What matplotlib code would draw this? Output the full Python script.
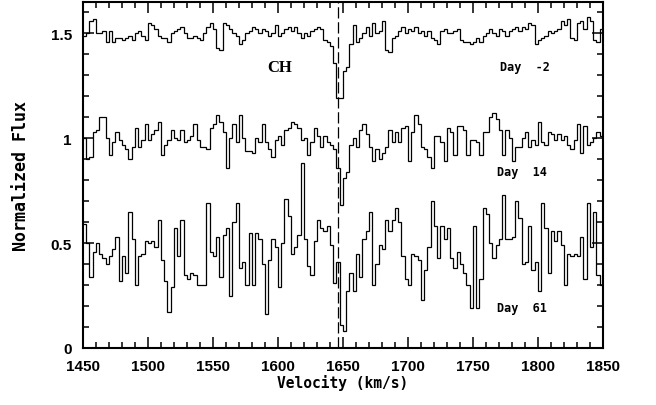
import numpy as np
import matplotlib
matplotlib.use('Agg')
import matplotlib.pyplot as plt
from matplotlib.ticker import MultipleLocator

# velocity grid (km/s)
v_start = 1450.0
v_step = 2.5
line_v = 1646.5

day_m2 = [1.49, 1.50, 1.56, 1.57, 1.50, 1.50, 1.51, 1.46, 1.51, 1.46,
          1.48, 1.48, 1.47, 1.48, 1.49, 1.47, 1.50, 1.51, 1.49, 1.47,
          1.55, 1.54, 1.52, 1.49, 1.48, 1.48, 1.46, 1.50, 1.51, 1.52,
          1.53, 1.50, 1.48, 1.48, 1.49, 1.48, 1.47, 1.50, 1.53, 1.55,
          1.52, 1.43, 1.42, 1.55, 1.54, 1.52, 1.50, 1.49, 1.45, 1.47,
          1.50, 1.51, 1.53, 1.52, 1.50, 1.52, 1.51, 1.49, 1.50, 1.54,
          1.49, 1.50, 1.52, 1.53, 1.51, 1.53, 1.50, 1.48, 1.50, 1.49,
          1.51, 1.52, 1.53, 1.52, 1.47, 1.46, 1.44, 1.36, 1.19, 1.19,
          1.32, 1.34, 1.45, 1.54, 1.46, 1.48, 1.50, 1.53, 1.49, 1.55,
          1.50, 1.51, 1.56, 1.42, 1.41, 1.48, 1.49, 1.51, 1.53, 1.50,
          1.52, 1.51, 1.53, 1.50, 1.51, 1.49, 1.51, 1.48, 1.47, 1.45,
          1.51, 1.52, 1.50, 1.50, 1.51, 1.52, 1.47, 1.46, 1.46, 1.45,
          1.46, 1.48, 1.46, 1.49, 1.50, 1.52, 1.50, 1.49, 1.52, 1.51,
          1.49, 1.51, 1.52, 1.53, 1.51, 1.53, 1.52, 1.55, 1.54, 1.45,
          1.47, 1.48, 1.49, 1.51, 1.50, 1.51, 1.52, 1.56, 1.54, 1.57,
          1.48, 1.47, 1.55, 1.56, 1.52, 1.58, 1.56, 1.47, 1.46, 1.52]

day_14 = [1.00, 0.90, 0.91, 1.03, 1.04, 1.10, 1.10, 1.00, 0.92, 0.98,
          1.03, 0.99, 0.97, 0.95, 0.90, 0.96, 1.05, 0.96, 0.99, 1.07,
          0.99, 1.02, 1.04, 1.08, 0.92, 0.97, 0.99, 1.04, 1.00, 0.99,
          1.04, 0.98, 0.99, 1.01, 1.07, 0.99, 0.96, 0.96, 0.95, 1.05,
          1.07, 1.11, 1.08, 1.03, 0.86, 1.00, 1.07, 0.98, 1.11, 1.00,
          0.94, 0.94, 0.93, 1.00, 0.98, 1.07, 0.98, 0.95, 0.91, 0.99,
          1.01, 0.97, 1.04, 1.05, 1.08, 1.07, 1.05, 0.99, 1.00, 0.92,
          0.98, 1.05, 1.01, 0.96, 1.01, 0.98, 0.97, 0.95, 0.86, 0.68,
          0.81, 0.84, 0.97, 1.00, 0.96, 1.04, 1.07, 1.02, 0.96, 0.89,
          0.95, 0.90, 0.93, 0.96, 1.04, 0.98, 1.03, 0.98, 1.05, 1.06,
          0.89, 1.03, 1.11, 1.07, 0.96, 0.95, 0.91, 0.86, 1.01, 1.01,
          0.98, 0.89, 1.05, 1.03, 0.92, 1.06, 1.06, 1.04, 0.92, 0.99,
          0.99, 0.98, 0.92, 1.03, 1.03, 1.10, 1.12, 1.09, 1.04, 0.92,
          1.04, 1.00, 0.89, 0.96, 0.96, 1.00, 1.03, 0.96, 0.99, 0.97,
          1.08, 0.98, 0.97, 1.03, 1.02, 0.99, 1.02, 0.99, 1.01, 0.97,
          0.95, 0.99, 1.07, 0.93, 1.06, 0.97, 0.98, 1.00, 1.03, 1.01]

day_61 = [0.59, 0.50, 0.34, 0.46, 0.50, 0.45, 0.43, 0.40, 0.44, 0.47,
          0.53, 0.32, 0.44, 0.36, 0.65, 0.52, 0.30, 0.44, 0.45, 0.51,
          0.50, 0.51, 0.48, 0.61, 0.42, 0.32, 0.17, 0.29, 0.57, 0.44,
          0.61, 0.35, 0.33, 0.36, 0.35, 0.30, 0.30, 0.30, 0.69, 0.46,
          0.44, 0.53, 0.34, 0.54, 0.57, 0.25, 0.60, 0.69, 0.38, 0.41,
          0.30, 0.55, 0.30, 0.55, 0.52, 0.40, 0.16, 0.42, 0.52, 0.48,
          0.29, 0.50, 0.71, 0.63, 0.45, 0.48, 0.54, 0.88, 0.52, 0.39,
          0.35, 0.51, 0.61, 0.57, 0.56, 0.58, 0.49, 0.31, 0.41, 0.11,
          0.08, 0.27, 0.36, 0.27, 0.45, 0.34, 0.52, 0.56, 0.65, 0.30,
          0.40, 0.49, 0.47, 0.61, 0.56, 0.61, 0.67, 0.60, 0.44, 0.33,
          0.30, 0.45, 0.44, 0.42, 0.23, 0.37, 0.48, 0.70, 0.58, 0.43,
          0.58, 0.52, 0.57, 0.43, 0.38, 0.46, 0.40, 0.36, 0.30, 0.19,
          0.58, 0.19, 0.33, 0.67, 0.64, 0.50, 0.43, 0.49, 0.52, 0.73,
          0.52, 0.52, 0.53, 0.70, 0.62, 0.40, 0.41, 0.58, 0.37, 0.41,
          0.27, 0.69, 0.57, 0.36, 0.56, 0.51, 0.56, 0.49, 0.30, 0.45,
          0.44, 0.45, 0.44, 0.53, 0.33, 0.69, 0.48, 0.65, 0.35, 0.30]

labels = ['Day  -2', 'Day  14', 'Day  61']
label_pos = [(1790, 1.344), (1788, 0.844), (1788, 0.195)]

fig = plt.figure(figsize=(6.56, 4.06), dpi=100)
ax = fig.add_axes([0.1265, 0.1404, 0.7925, 0.8522])

edges = v_start + v_step * np.arange(len(day_m2) + 1)
for spec in [day_m2, day_14, day_61]:
    ax.stairs(spec, edges, color='black', lw=0.9, baseline=None)

ax.axvline(line_v, color='black', lw=0.9, ls=(0, (9, 3)))

ax.text(1601, 1.34, 'CH', fontsize=12, fontweight='bold',
        family='Liberation Serif', ha='center', va='center')
for lab, (x, y) in zip(labels, label_pos):
    ax.text(x, y, lab, fontsize=8.5, fontweight='bold',
            family='DejaVu Sans Mono', ha='center', va='center')

ax.set_xlim(1450, 1850)
ax.set_ylim(0, 1.65)
ax.xaxis.set_major_locator(MultipleLocator(50))
ax.xaxis.set_minor_locator(MultipleLocator(10))
ax.yaxis.set_major_locator(MultipleLocator(0.5))
ax.yaxis.set_minor_locator(MultipleLocator(0.1))
ax.set_yticks([0, 0.5, 1, 1.5])
ax.set_yticklabels(['0', '0.5', '1', '1.5'])

ax.tick_params(which='both', direction='in', top=True, right=True, width=1.1)
ax.tick_params(which='major', length=8)
ax.tick_params(which='minor', length=4.5)
ax.tick_params(axis='x', pad=8)
ax.tick_params(axis='y', pad=8)
for t in ax.get_xticklabels() + ax.get_yticklabels():
    t.set_family('Liberation Sans')
    t.set_fontweight('bold')
    t.set_fontsize(11)
for s in ax.spines.values():
    s.set_linewidth(1.5)

ax.set_xlabel('Velocity (km/s)', fontsize=10.5, fontweight='bold',
              family='DejaVu Sans Mono', labelpad=1)
ax.set_ylabel('Normalized Flux', fontsize=12, fontweight='bold',
              family='DejaVu Sans Mono', labelpad=15)

fig.savefig('out.png', dpi=100)
